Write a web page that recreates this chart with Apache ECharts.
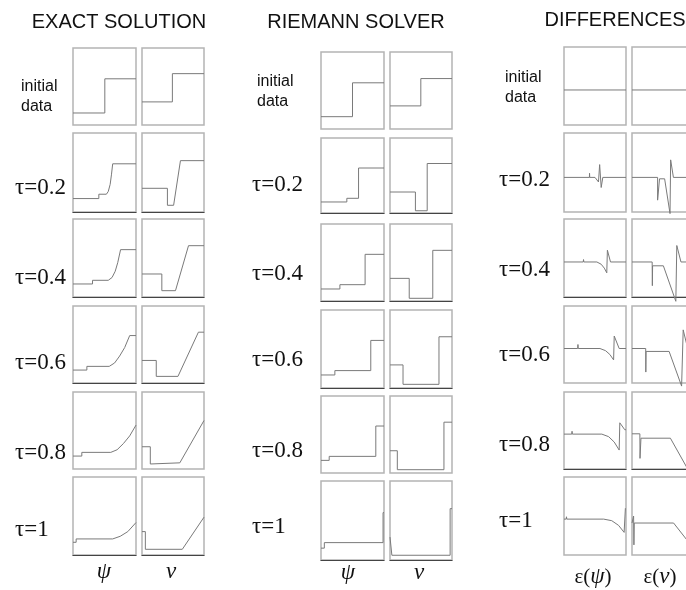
<!DOCTYPE html>
<html>
<head>
<meta charset="utf-8">
<script src="https://cdn.jsdelivr.net/npm/echarts@6/dist/echarts.min.js"></script>
<style>
  html, body { margin: 0; padding: 0; background: #ffffff; }
  #chart { width: 686px; height: 590px; }
</style>
</head>
<body>
<div id="chart"></div>
<script>
// ---- Labels ----
const groupTitles = ['EXACT SOLUTION', 'RIEMANN SOLVER', 'DIFFERENCES'];
const rowLabels = ['initial\ndata', 'τ=0.2', 'τ=0.4', 'τ=0.6', 'τ=0.8', 'τ=1'];
const columnLabels = [
  ['{i|ψ}', '{i|ν}'],
  ['{i|ψ}', '{i|ν}'],
  ['{n|ε(}{i|ψ}{n|)}', '{n|ε(}{i|ν}{n|)}']
];

// ---- Profiles: [x, value] on a unit box, one list per time level ----
const exactPsi = [
  [[0,0.156],[0.505,0.156],[0.505,0.60],[1,0.60]],
  [[0,0.17],[0.41,0.17],[0.41,0.225],[0.53,0.225],[0.56,0.26],[0.59,0.35],[0.61,0.47],[0.63,0.61],[1,0.61]],
  [[0,0.167],[0.31,0.167],[0.31,0.214],[0.56,0.214],[0.62,0.25],[0.67,0.33],[0.71,0.44],[0.755,0.607],[1,0.607]],
  [[0,0.168],[0.22,0.168],[0.22,0.216],[0.575,0.216],[0.66,0.26],[0.74,0.35],[0.82,0.46],[0.90,0.616],[1,0.616]],
  [[0,0.168],[0.14,0.168],[0.14,0.216],[0.60,0.216],[0.70,0.25],[0.80,0.33],[0.90,0.43],[1,0.57]],
  [[0,0.163],[0.05,0.163],[0.05,0.206],[0.63,0.206],[0.75,0.24],[0.87,0.30],[1,0.416]]
];
const exactNu = [
  [[0,0.30],[0.49,0.30],[0.49,0.667],[1,0.667]],
  [[0,0.30],[0.41,0.30],[0.41,0.085],[0.51,0.085],[0.62,0.65],[1,0.65]],
  [[0,0.295],[0.32,0.295],[0.32,0.081],[0.54,0.081],[0.75,0.658],[1,0.658]],
  [[0,0.293],[0.23,0.293],[0.23,0.086],[0.58,0.086],[0.91,0.66],[1,0.66]],
  [[0,0.289],[0.134,0.289],[0.134,0.065],[0.61,0.08],[1,0.63]],
  [[0,0.30],[0.054,0.30],[0.054,0.073],[0.65,0.073],[1,0.485]]
];
const riemannPsi = [
  [[0,0.16],[0.50,0.16],[0.50,0.60],[1,0.60]],
  [[0,0.147],[0.41,0.147],[0.41,0.196],[0.596,0.196],[0.596,0.60],[1,0.60]],
  [[0,0.156],[0.30,0.156],[0.30,0.212],[0.70,0.212],[0.70,0.606],[1,0.606]],
  [[0,0.167],[0.22,0.167],[0.22,0.223],[0.79,0.223],[0.79,0.61],[1,0.61]],
  [[0,0.164],[0.13,0.164],[0.13,0.216],[0.87,0.216],[0.87,0.61],[1,0.61]],
  [[0,0.15],[0.053,0.15],[0.053,0.22],[0.985,0.22],[0.985,0.60],[1,0.60]]
];
const riemannNu = [
  [[0,0.30],[0.497,0.30],[0.497,0.655],[1,0.655]],
  [[0,0.28],[0.41,0.28],[0.41,0.03],[0.60,0.03],[0.60,0.66],[1,0.66]],
  [[0,0.294],[0.31,0.294],[0.31,0.035],[0.69,0.035],[0.69,0.658],[1,0.658]],
  [[0,0.296],[0.21,0.296],[0.21,0.047],[0.79,0.047],[0.79,0.657],[1,0.657]],
  [[0,0.289],[0.118,0.289],[0.118,0.043],[0.87,0.043],[0.87,0.66],[1,0.66]],
  [[0,0.29],[0.03,0.29],[0.03,0.06],[0.97,0.06],[0.97,0.65],[1,0.65]]
];
const diffPsi = [
  [[0,0.449],[1,0.449]],
  [[0,0.438],[0.41,0.438],[0.412,0.49],[0.415,0.438],[0.50,0.438],[0.556,0.38],[0.575,0.60],[0.60,0.31],[0.626,0.438],[1,0.438]],
  [[0,0.449],[0.31,0.449],[0.315,0.48],[0.32,0.449],[0.53,0.449],[0.60,0.42],[0.65,0.37],[0.69,0.31],[0.70,0.60],[0.75,0.449],[1,0.449]],
  [[0,0.448],[0.22,0.448],[0.225,0.50],[0.23,0.448],[0.58,0.448],[0.67,0.42],[0.74,0.37],[0.80,0.30],[0.81,0.61],[0.89,0.448],[1,0.448]],
  [[0,0.453],[0.125,0.453],[0.13,0.49],[0.135,0.453],[0.61,0.453],[0.72,0.42],[0.81,0.35],[0.89,0.246],[0.90,0.60],[0.98,0.51],[1,0.51]],
  [[0,0.46],[0.035,0.46],[0.04,0.49],[0.045,0.46],[0.64,0.46],[0.77,0.44],[0.88,0.38],[0.97,0.29],[0.99,0.60]]
];
const diffNu = [
  [[0,0.449],[1,0.449]],
  [[0,0.438],[0.40,0.438],[0.40,0.15],[0.43,0.15],[0.43,0.42],[0.51,0.42],[0.594,-0.02],[0.604,0.66],[0.647,0.438],[1,0.438]],
  [[0,0.449],[0.315,0.449],[0.318,0.145],[0.322,0.40],[0.49,0.40],[0.685,-0.055],[0.70,0.66],[0.765,0.449],[1,0.449]],
  [[0,0.448],[0.214,0.448],[0.216,0.142],[0.22,0.41],[0.58,0.41],[0.775,-0.04],[0.80,0.69],[0.87,0.448],[1,0.448]],
  [[0,0.457],[0.123,0.457],[0.125,0.138],[0.14,0.40],[0.60,0.40],[0.87,0.0]],
  [[0,0.41],[0.025,0.50],[0.03,0.13],[0.035,0.41],[0.65,0.41],[0.87,0.18]]
];

// ---- Page layout (pixels) ----
const layout = [
  { // exact solution
    title: { x: 119, y: 22 },
    cols: [[73, 63], [142, 62]],
    rows: [[48,125],[133,212],[219,297],[306,383],[392,469],[477,555]],
    labelX: [21, 15],
    labelY: [97, 188, 278, 363, 453, 530],
    colLabel: [[104, 572], [171, 572]],
    darkBottom: [false, true, true, true, false, true],
    data: [exactPsi, exactNu]
  },
  { // Riemann solver
    title: { x: 356, y: 22 },
    cols: [[321, 63], [390, 62]],
    rows: [[52,129],[138,213],[224,301],[310,388],[396,473],[481,560]],
    labelX: [257, 252],
    labelY: [92, 185, 274, 360, 451, 527],
    colLabel: [[348, 573], [419, 573]],
    darkBottom: [false, true, true, true, false, true],
    data: [riemannPsi, riemannNu]
  },
  { // differences
    title: { x: 615, y: 20 },
    cols: [[564, 62], [632, 64]],
    rows: [[47,125],[133,212],[219,297],[306,383],[392,469],[477,555]],
    labelX: [505, 499],
    labelY: [88, 180, 270, 355, 445, 521],
    colLabel: [[593, 577], [660, 577]],
    darkBottom: [false, false, true, false, true, false],
    data: [diffPsi, diffNu]
  }
];

const grid = [], xAxis = [], yAxis = [], series = [], graphic = [];
const lineColor = '#7a7a7a';
const frameColor = '#b4b4b4';

layout.forEach((g, gi) => {
  graphic.push({
    type: 'text', x: g.title.x, y: g.title.y,
    style: { text: groupTitles[gi], font: '20px "Liberation Sans", Arial, sans-serif',
             fill: '#111', textAlign: 'center', textVerticalAlign: 'middle' }
  });
  g.rows.forEach((ry, ri) => {
    const isInit = ri === 0;
    graphic.push({
      type: 'text', x: isInit ? g.labelX[0] : g.labelX[1], y: g.labelY[ri],
      style: {
        text: rowLabels[ri],
        font: isInit ? '16px "Liberation Sans", Arial, sans-serif'
                     : '23px "Liberation Serif", "Times New Roman", serif',
        lineHeight: 20,
        fill: '#111', textAlign: 'left', textVerticalAlign: 'middle'
      }
    });
    g.cols.forEach((cx, ci) => {
      const idx = grid.length;
      grid.push({
        left: cx[0], top: ry[0], width: cx[1], height: ry[1] - ry[0],
        outerBoundsMode: 'none',
        show: true, borderColor: frameColor, borderWidth: 1.5, backgroundColor: '#fff'
      });
      xAxis.push({
        type: 'value', gridIndex: idx, min: 0, max: 1,
        axisLine: { show: g.darkBottom[ri], onZero: false, lineStyle: { color: '#444', width: 1.2 } },
        axisTick: { show: false }, axisLabel: { show: false }, splitLine: { show: false }
      });
      yAxis.push({
        type: 'value', gridIndex: idx, min: 0, max: 1,
        axisLine: { show: false }, axisTick: { show: false },
        axisLabel: { show: false }, splitLine: { show: false }
      });
      series.push({
        type: 'line', xAxisIndex: idx, yAxisIndex: idx,
        data: g.data[ci][ri], showSymbol: false, clip: false, silent: true,
        lineStyle: { color: lineColor, width: 1 }, animation: false
      });
    });
  });
  g.colLabel.forEach((p, ci) => {
    graphic.push({
      type: 'text', x: p[0], y: p[1],
      style: {
        text: columnLabels[gi][ci],
        fill: '#111', textAlign: 'center', textVerticalAlign: 'middle',
        rich: {
          i: { font: 'italic 23px "Liberation Serif", "Times New Roman", serif', fill: '#111' },
          n: { font: '21px "Liberation Serif", "Times New Roman", serif', fill: '#111' }
        }
      }
    });
  });
});

const chart = echarts.init(document.getElementById('chart'), null, { renderer: 'canvas' });
chart.setOption({
  backgroundColor: '#ffffff',
  animation: false,
  grid, xAxis, yAxis, series, graphic
});
</script>
</body>
</html>
